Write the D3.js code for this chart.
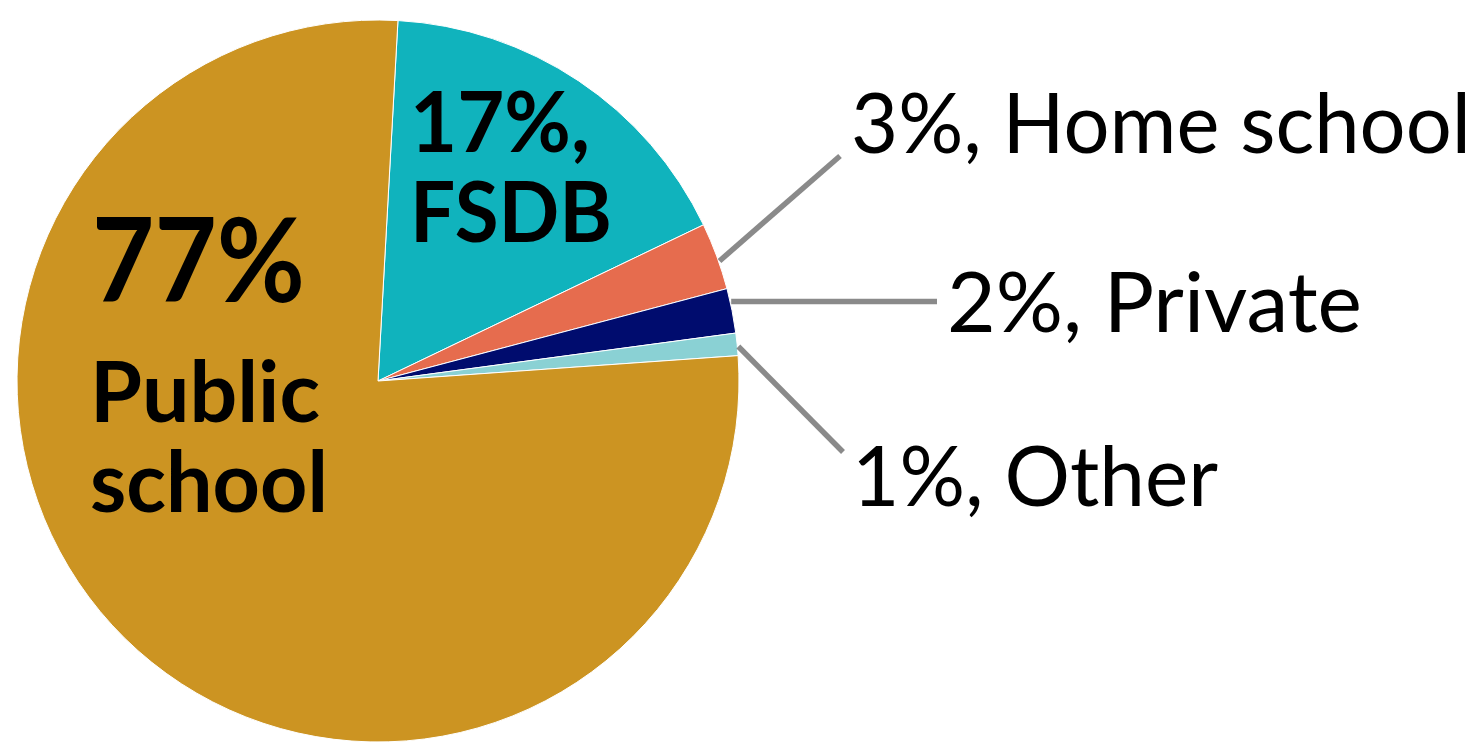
<!DOCTYPE html>
<html>
<head>
<meta charset="utf-8">
<script src="https://cdn.jsdelivr.net/npm/d3@7"></script>
<style>
  body { margin: 0; background: #fff; }
  svg { display: block; font-family: Lato, "Open Sans", sans-serif; }
</style>
</head>
<body>
<div id="chart"></div>
<script>
// slices in drawing order (clockwise from just right of 12 o'clock)
const categories = ["FSDB", "Home school", "Private", "Other", "Public school"];
const shares = [17, 3, 2, 1, 77];
const colors = ["#10b3bd", "#e66c4e", "#000c6e", "#8ad1d4", "#cc9422"];

const width = 1480,
    height = 747,
    cx = 378, cy = 381,
    radius = 361;

const data = categories.map((c, i) => ({category: c, value: shares[i], color: colors[i]}));

let svg = d3.select("#chart").append("svg")
    .attr("width", width)
    .attr("height", height)
    .attr("viewBox", [0, 0, width, height]);

const start = 3.17 * Math.PI / 180;
const pie = d3.pie()
    .sort(null)
    .value(d => d.value)
    .startAngle(start)
    .endAngle(start + 2 * Math.PI);

const arc = d3.arc().innerRadius(0).outerRadius(radius);
const arcs = pie(data);

let g = svg.append("g").attr("transform", `translate(${cx},${cy})`);

g.selectAll("path")
    .data(arcs)
    .join("path")
    .attr("d", arc)
    .attr("fill", d => d.data.color)
    .attr("stroke", "#fff")
    .attr("stroke-width", 1);

// inside labels (bold)
const inside = [
    {lines: ["77%"], x: 92, y: 302, size: 117, len: [213]},
    {lines: ["Public", "school"], x: 90, y: 422, size: 84, dy: 90, len: [230, 238]},
    {lines: ["17%,", "FSDB"], x: 410, y: 152, size: 84, dy: 90, len: [180, 202]}
];
inside.forEach(l => {
    l.lines.forEach((t, i) => {
        svg.append("text")
            .attr("x", l.x)
            .attr("y", l.y + i * (l.dy || 0))
            .attr("font-size", l.size)
            .attr("font-weight", 700)
            .attr("fill", "#000")
            .attr("textLength", l.len[i])
            .attr("lengthAdjust", "spacingAndGlyphs")
            .text(t);
    });
});

// outside labels with leader lines for the small slices
const outsideLabels = ["3%, Home school", "2%, Private", "1%, Other"];
const anchorFrac = [0.58, 0.3, 0.6];   // where along the slice edge the leader starts
const lineEnds = [[840, 156], [937, null], [843, 452]];
const labelPos = [[851, 153, 620], [947, 332, 415], [852, 506, 366]];

const small = arcs.slice(1, 4);
small.forEach((d, i) => {
    const a = d.startAngle + anchorFrac[i] * (d.endAngle - d.startAngle);
    const r0 = radius + 1;
    const x0 = cx + r0 * Math.sin(a),
        y0 = cy - r0 * Math.cos(a);
    const x1 = lineEnds[i][0],
        y1 = lineEnds[i][1] == null ? y0 : lineEnds[i][1];
    svg.append("line")
        .attr("x1", x0).attr("y1", y0)
        .attr("x2", x1).attr("y2", y1)
        .attr("stroke", "#8a8a8a")
        .attr("stroke-width", 5.5);
    svg.append("text")
        .attr("x", labelPos[i][0])
        .attr("y", labelPos[i][1])
        .attr("font-size", 84)
        .attr("fill", "#000")
        .attr("textLength", labelPos[i][2])
        .attr("lengthAdjust", "spacingAndGlyphs")
        .text(outsideLabels[i]);
});
</script>
</body>
</html>
